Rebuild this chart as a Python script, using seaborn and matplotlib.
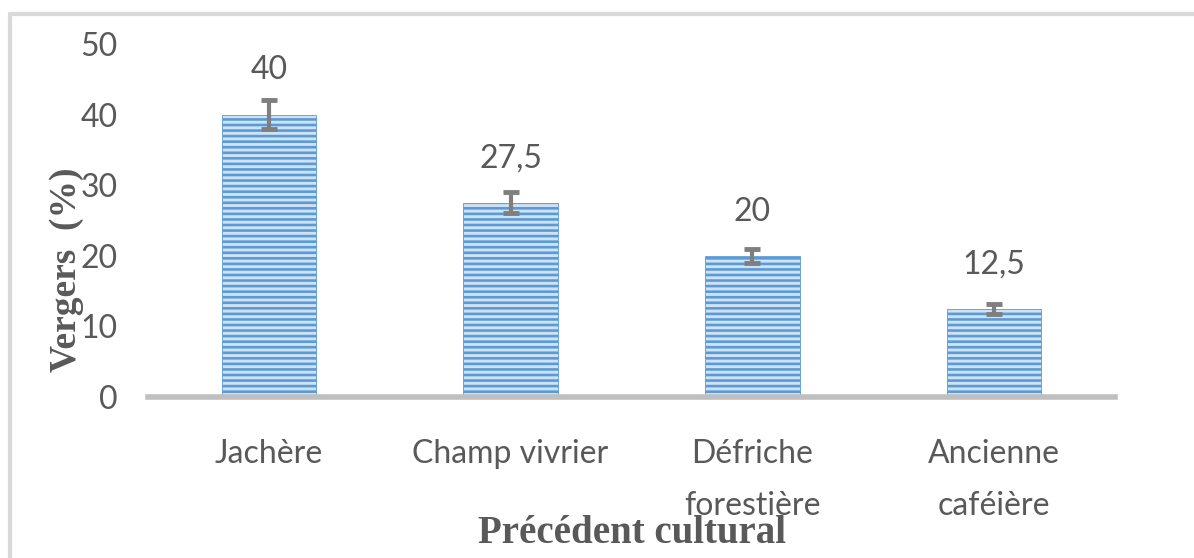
import matplotlib
matplotlib.use("Agg")
import matplotlib.pyplot as plt
from matplotlib.lines import Line2D
import pandas as pd
import seaborn as sns

# data
categories = ["Jachère", "Champ vivrier", "Défriche\nforestière", "Ancienne\ncaféière"]
values = [40, 27.5, 20, 12.5]
errors = [2.0, 1.5, 1.0, 0.7]
value_labels = ["40", "27,5", "20", "12,5"]

GREY = "#595959"

sns.set_style("white")
plt.rcParams["font.family"] = ["Lato", "DejaVu Sans"]
plt.rcParams["hatch.linewidth"] = 1.9

df = pd.DataFrame({"precedent": categories, "vergers": values})

fig = plt.figure(figsize=(11.94, 5.58), dpi=100)
ax = fig.add_axes([148 / 1194, 1 - 397 / 558, (1115 - 148) / 1194, (397 - 44) / 558])

sns.barplot(data=df, x="precedent", y="vergers", ax=ax, color="#cfe2f4",
            width=0.39, errorbar=None, saturation=1)
for p in ax.patches:
    p.set_hatch("---")
    p.set_edgecolor("#5b9bd5")
    p.set_linewidth(0.6)

ax.errorbar(range(len(values)), values, yerr=errors, fmt="none",
            ecolor="#7f7f7f", elinewidth=3, capsize=6, capthick=3.5)

for i, (v, lab) in enumerate(zip(values, value_labels)):
    ax.annotate(lab, (i, v), textcoords="offset points", xytext=(0, 21),
                ha="center", va="bottom", fontsize=23, color=GREY)

ax.set_xlim(-0.5, 3.5)
ax.set_ylim(0, 50)
ax.set_yticks([0, 10, 20, 30, 40, 50])
for s in ["top", "right", "left"]:
    ax.spines[s].set_visible(False)
ax.spines["bottom"].set_color("#bfbfbf")
ax.spines["bottom"].set_linewidth(4)
ax.tick_params(axis="y", length=0, pad=22, labelsize=23, labelcolor=GREY)
ax.tick_params(axis="x", length=0, pad=30, labelsize=23, labelcolor=GREY)
for t in ax.get_xticklabels():
    t.set_linespacing(1.95)

ax.set_xlabel("Précédent cultural", family="Liberation Serif", fontweight="bold",
              fontsize=28, color=GREY)
ax.xaxis.set_label_coords(0.5, -0.335)
ax.set_ylabel("Vergers  (%)", family="Liberation Serif", fontweight="bold",
              fontsize=27, color=GREY)
ax.yaxis.set_label_coords(-0.066, 0.36)

# light grey frame around the chart area
fig.add_artist(Line2D([10 / 1194, 10 / 1194], [0, 1 - 14 / 558],
                      transform=fig.transFigure, color="#d9d9d9", lw=3))
fig.add_artist(Line2D([10 / 1194, 1], [1 - 14 / 558, 1 - 14 / 558],
                      transform=fig.transFigure, color="#d9d9d9", lw=3))

fig.savefig("out.png", dpi=100)
